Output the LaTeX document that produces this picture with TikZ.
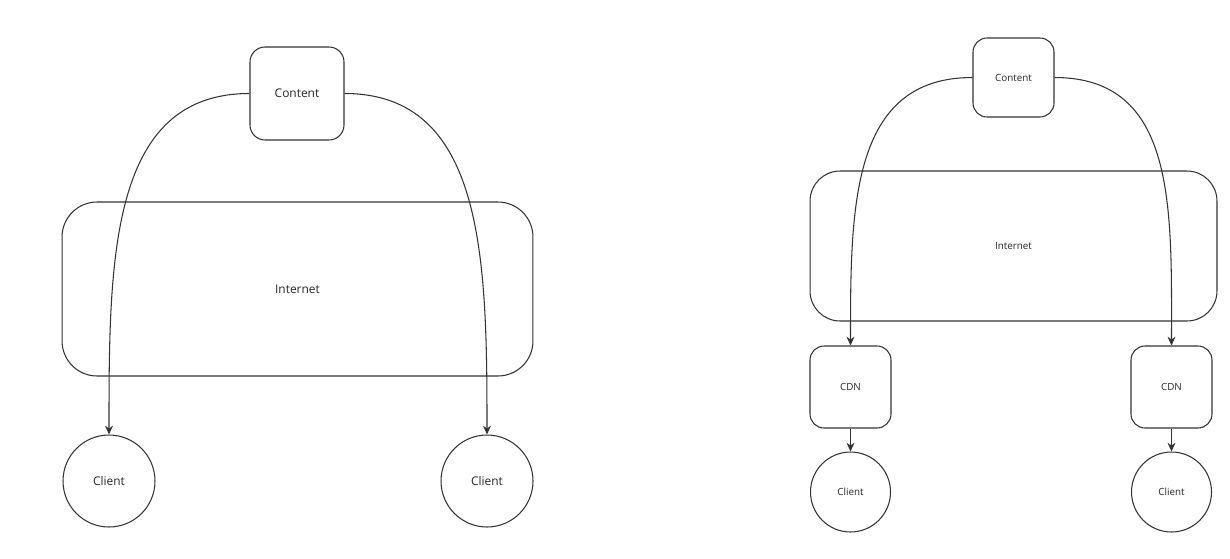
\documentclass[tikz,border=0pt]{standalone}
\usepackage{fontspec}
\setmainfont{Open Sans}
\usetikzlibrary{arrows.meta}

\begin{document}
\begin{tikzpicture}[x=0.02cm, y=-0.02cm,
    every node/.style={text=black!85, inner sep=0pt},
    box/.style={rectangle, draw=black!80, line width=0.6pt, rounded corners=0.3cm},
    cloud/.style={rectangle, draw=black!80, line width=0.6pt, rounded corners=0.7cm},
    client/.style={circle, draw=black!80, line width=0.6pt},
    flow/.style={draw=black!80, line width=0.6pt, -{Stealth[length=5pt,width=4.5pt]}}]
  \useasboundingbox (0,0) rectangle (1230,558);

  % direct delivery
  \node[cloud, minimum width=9.42cm, minimum height=3.48cm, font=\fontsize{6.8}{8}\selectfont] (internetL) at (297.5,289) {Internet};
  \node[box, fill=white, minimum width=1.88cm, minimum height=1.86cm, font=\fontsize{6.8}{8}\selectfont] (contentL) at (297,93.5) {Content};
  \node[client, minimum size=1.84cm, font=\fontsize{6.8}{8}\selectfont] (clientLa) at (109,481) {Client};
  \node[client, minimum size=1.84cm, font=\fontsize{6.8}{8}\selectfont] (clientLb) at (487,481) {Client};
  \draw[flow] (contentL.west) .. controls +(-140,0) and +(0,-175) .. (clientLa.north);
  \draw[flow] (contentL.east) .. controls +(140,0) and +(0,-175) .. (clientLb.north);

  % delivery through a CDN
  \node[cloud, rounded corners=0.6cm, minimum width=8.14cm, minimum height=3.0cm, font=\fontsize{5.6}{7}\selectfont] (internetR) at (1013.5,246) {Internet};
  \node[box, fill=white, rounded corners=0.28cm, minimum width=1.62cm, minimum height=1.58cm, font=\fontsize{5.6}{7}\selectfont] (contentR) at (1013.5,77.5) {Content};
  \node[box, rounded corners=0.28cm, minimum width=1.62cm, minimum height=1.64cm, font=\fontsize{5.6}{7}\selectfont] (cdnA) at (850.5,387) {CDN};
  \node[box, rounded corners=0.28cm, minimum width=1.62cm, minimum height=1.64cm, font=\fontsize{5.6}{7}\selectfont] (cdnB) at (1171.5,387) {CDN};
  \node[client, minimum size=1.6cm, font=\fontsize{5.6}{7}\selectfont] (clientRa) at (850.5,492) {Client};
  \node[client, minimum size=1.6cm, font=\fontsize{5.6}{7}\selectfont] (clientRb) at (1171.5,492) {Client};
  \draw[flow] (contentR.west) .. controls +(-122,0) and +(0,-138) .. (cdnA.north);
  \draw[flow] (contentR.east) .. controls +(122,0) and +(0,-138) .. (cdnB.north);
  \draw[flow] (cdnA) -- (clientRa);
  \draw[flow] (cdnB) -- (clientRb);
\end{tikzpicture}
\end{document}
